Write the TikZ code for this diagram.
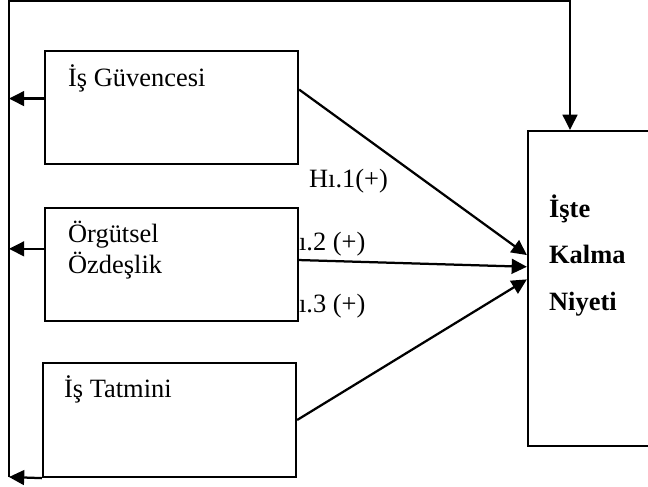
\documentclass[tikz,border=0pt]{standalone}
\usepackage{fontspec}
\setmainfont{Liberation Serif}
\usetikzlibrary{arrows.meta,fit}
\begin{document}
\begin{tikzpicture}[x=0.025cm,y=-0.025cm,line width=1.6pt,
  box/.style={draw,fill=white,inner sep=0pt},
  lbl/.style={anchor=base west,inner sep=0pt,font=\fontsize{18.8}{22}\selectfont},
  arr/.style={-{Triangle[length=0.38cm,width=0.37cm]}}]
  \useasboundingbox (0,0) rectangle (648,486);
  \clip (0,0) rectangle (648,486);
  \coordinate (fbb) at (9,477);
  \coordinate (fbt) at (9,1);
  \coordinate (fbr) at (570,1);
  \node[box,fit={(45,51) (298,164)}] (guv) {};
  \node[box,fit={(45,208) (298,321)}] (org) {};
  \node[box,fit={(43,363) (296,477)}] (tat) {};
  \node[box,fit={(528,131) (700,446)}] (niy) {};
  \node[lbl] (tguv) at (67,87) {İş Güvencesi};
  \node[lbl] (torg) at (67,242) {Örgütsel};
  \node[lbl] (torg2) at (67,273) {Özdeşlik};
  \node[lbl] (ttat) at (63,397) {İş Tatmini};
  \node[lbl,font=\fontsize{18.8}{22}\selectfont\bfseries] (tniy1) at (548,217) {İşte};
  \node[lbl,font=\fontsize{18.8}{22}\selectfont\bfseries] (tniy2) at (548,263) {Kalma};
  \node[lbl,font=\fontsize{18.8}{22}\selectfont\bfseries] (tniy3) at (548,310) {Niyeti};
  \node[lbl] (h1) at (308,187) {Hı.1(+)};
  \node[lbl] (h2) at (298,250) {ı.2 (+)};
  \node[lbl] (h3) at (298,312) {ı.3 (+)};
  \draw[arr] (guv.8.3) -- (niy.159.9);
  \draw[arr] (org.2.9) -- (niy.166.6);
  \draw[arr] (tat.east) -- (niy.174.4);
  \draw[arr] (guv.176.2) -- (guv.176.2 -| fbt);
  \draw[arr] (org.173.9) -- (org.173.9 -| fbt);
  \draw[arr] (tat.south west) -- (fbb);
  \draw[arr] (fbb) -- (fbt) -- (fbr) -- (niy.north -| fbr);
\end{tikzpicture}
\end{document}
